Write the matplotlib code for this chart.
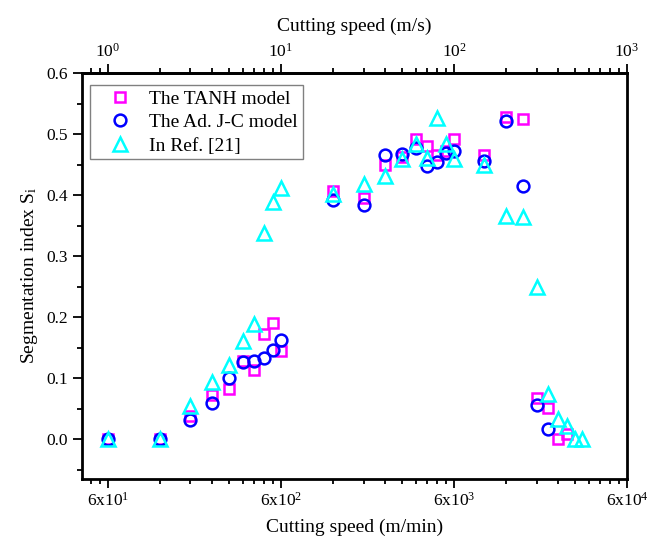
import matplotlib
matplotlib.use("Agg")
import matplotlib.pyplot as plt
from matplotlib.ticker import FixedLocator, FixedFormatter, LogLocator, NullFormatter, MultipleLocator

plt.rcParams['font.family'] = ['Liberation Serif', 'DejaVu Serif']
plt.rcParams['mathtext.fontset'] = 'custom'
plt.rcParams['mathtext.rm'] = 'Liberation Serif'
plt.rcParams['mathtext.it'] = 'Liberation Serif:italic'

# Cutting speed in m/s
speed_tanh = [1, 2, 3, 4, 5, 6, 7, 8, 9, 10, 20, 30, 40, 50, 60, 70, 80, 90, 100,
              150, 200, 250, 300, 350, 400, 450]
si_tanh = [0.0, 0.0, 0.038, 0.073, 0.083, 0.128, 0.114, 0.173, 0.191, 0.145,
           0.407, 0.396, 0.450, 0.463, 0.492, 0.481, 0.465, 0.472, 0.492,
           0.465, 0.528, 0.525, 0.068, 0.051, 0.0, 0.008]

speed_jc = [1, 2, 3, 4, 5, 6, 7, 8, 9, 10, 20, 30, 40, 50, 60, 70, 80, 90, 100,
            150, 200, 250, 300, 350]
si_jc = [0.0, 0.0, 0.032, 0.059, 0.100, 0.126, 0.128, 0.134, 0.147, 0.163,
         0.392, 0.383, 0.465, 0.467, 0.477, 0.447, 0.455, 0.469, 0.472,
         0.456, 0.522, 0.415, 0.057, 0.017]

speed_ref = [1, 2, 3, 4, 5, 6, 7, 8, 9, 10, 20, 30, 40, 50, 60, 70, 80, 90, 100,
             150, 200, 250, 300, 350, 400, 450, 500, 550]
si_ref = [0.0, 0.0, 0.054, 0.094, 0.122, 0.161, 0.189, 0.338, 0.389, 0.412,
          0.401, 0.418, 0.431, 0.459, 0.484, 0.460, 0.526, 0.484, 0.459,
          0.449, 0.366, 0.364, 0.249, 0.075, 0.034, 0.022, 0.001, 0.0]

labels = ['The TANH model', 'The Ad. J-C model', 'In Ref. [21]']
bottom_ticks = [1, 10, 100, 1000]
bottom_labels = ['6x10$^1$', '6x10$^2$', '6x10$^3$', '6x10$^4$']
top_ticks = [1, 10, 100, 1000]
top_labels = ['10$^0$', '10$^1$', '10$^2$', '10$^3$']

fig = plt.figure(figsize=(6.61, 5.36), dpi=100)
ax = fig.add_axes([82/661, 1-479/536, (627-82)/661, (479-73)/536])

mew = 1.8
ax.plot(speed_tanh, si_tanh, 's', ms=7.5, mfc='none', mec='#FF00FF', mew=mew,
        label=labels[0], zorder=3)
ax.plot(speed_jc, si_jc, 'o', ms=8.5, mfc='none', mec='#0000FF', mew=mew,
        label=labels[1], zorder=4)
ax.plot(speed_ref, si_ref, '^', ms=9.5, mfc='none', mec='#00FFFF', mew=mew,
        label=labels[2], zorder=5)

ax.set_xscale('log')
ax.set_xlim(0.708, 1000)
ax.set_ylim(-0.065, 0.6)

ax.xaxis.set_major_locator(FixedLocator(bottom_ticks))
ax.xaxis.set_major_formatter(FixedFormatter(bottom_labels))
ax.xaxis.set_minor_locator(LogLocator(base=10, subs=range(2, 10)))
ax.xaxis.set_minor_formatter(NullFormatter())

ax.yaxis.set_major_locator(MultipleLocator(0.1))
ax.yaxis.set_minor_locator(MultipleLocator(0.05))
ax.yaxis.set_major_formatter(plt.FormatStrFormatter('%.1f'))

for s in ax.spines.values():
    s.set_linewidth(2.0)

ax.tick_params(axis='both', which='major', direction='out', length=6.5, width=1.3,
               labelsize=12.5)
ax.tick_params(axis='both', which='minor', direction='out', length=3.3, width=1.3)
ax.tick_params(axis='x', which='both', top=False, bottom=True)
ax.tick_params(axis='y', which='both', right=False, left=True)
ax.tick_params(axis='x', which='major', pad=3)

sec = ax.secondary_xaxis('top')
sec.set_xscale('log')
sec.xaxis.set_major_locator(FixedLocator(top_ticks))
sec.xaxis.set_major_formatter(FixedFormatter(top_labels))
sec.xaxis.set_minor_locator(LogLocator(base=10, subs=range(2, 10)))
sec.xaxis.set_minor_formatter(NullFormatter())
sec.tick_params(axis='x', which='major', direction='out', length=6.5, width=1.3,
                labelsize=12.5, pad=2)
sec.tick_params(axis='x', which='minor', direction='out', length=3.3, width=1.3)
sec.spines['top'].set_linewidth(2.0)
sec.set_xlabel('Cutting speed (m/s)', fontsize=14, labelpad=9)

ax.set_xlabel('Cutting speed (m/min)', fontsize=14, labelpad=6)
ax.set_ylabel('Segmentation index S$_\\mathrm{i}$', fontsize=14, labelpad=5)

leg = ax.legend(loc='upper left', bbox_to_anchor=(0.0147, 0.970), borderaxespad=0,
                fontsize=14, frameon=True, fancybox=False, edgecolor='#808080',
                framealpha=1, handletextpad=0.2, labelspacing=0.3,
                borderpad=0.25, handlelength=2.6)
leg.get_frame().set_linewidth(1.0)

fig.savefig('out.png', dpi=100)
